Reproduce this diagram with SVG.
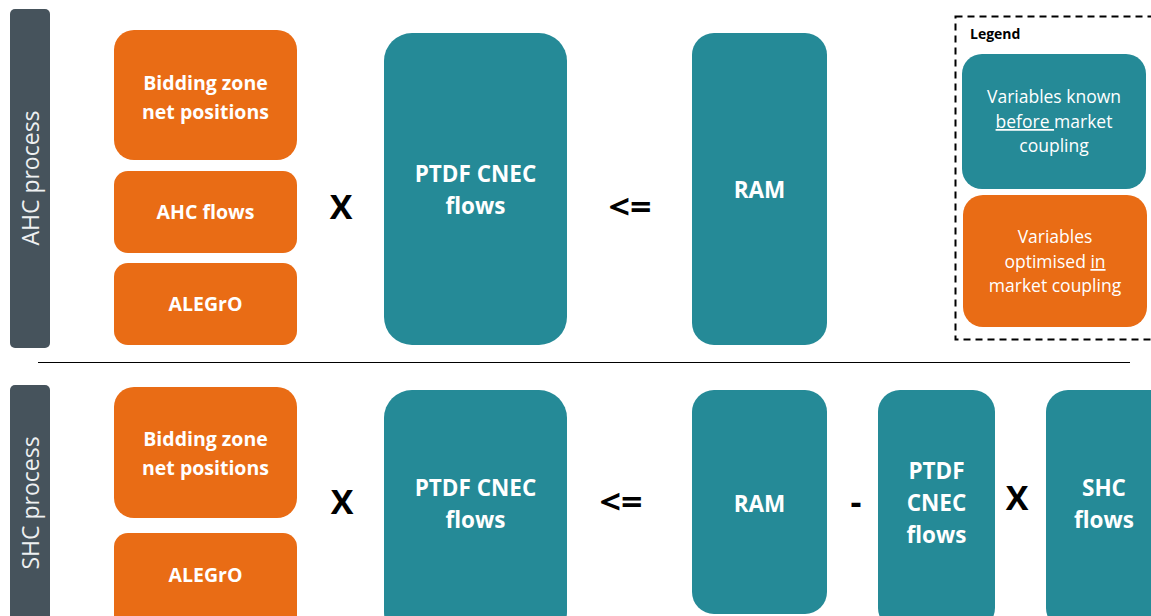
<svg xmlns="http://www.w3.org/2000/svg" width="1151" height="616" viewBox="0 0 1151 616">
<style>
.or{fill:#E96C15}
.te{fill:#258A97}
.bar{fill:#46535C}
.t{font-family:"Open Sans","Noto Sans",sans-serif;font-weight:bold;fill:#fff;text-anchor:middle;font-size:19.5px}
.tt{font-family:"Open Sans","Noto Sans",sans-serif;font-weight:bold;fill:#fff;text-anchor:middle;font-size:22.5px}
.l{font-family:"Open Sans","Noto Sans",sans-serif;fill:#fff;text-anchor:middle;font-size:17.5px}
.op{font-family:"Open Sans","Noto Sans",sans-serif;font-weight:bold;fill:#000;text-anchor:middle;font-size:34px}
.side{font-family:"Open Sans","Noto Sans",sans-serif;fill:#eef0f1;text-anchor:middle;font-size:23px}
</style>
<rect width="1151" height="616" fill="#fff"/>
<g id="ahc-label"><rect class="bar" x="10" y="9" width="40" height="339" rx="5"/><text class="side" transform="translate(39,178) rotate(-90)">AHC process</text></g>
<g id="shc-label"><rect class="bar" x="10" y="385" width="40" height="240" rx="5"/><text class="side" transform="translate(39,503) rotate(-90)">SHC process</text></g>
<g id="connectors"><line x1="38" y1="362.5" x2="1130" y2="362.5" stroke="#000" stroke-width="1"/></g>
<g id="ahc-bz"><rect class="or" x="114" y="30" width="183" height="130" rx="20"/><text class="t" x="205.5" y="90">Bidding zone</text><text class="t" x="205.5" y="119">net positions</text></g>
<g id="ahc-flows"><rect class="or" x="114" y="171" width="183" height="82" rx="14"/><text class="t" x="205.5" y="219">AHC flows</text></g>
<g id="ahc-alegro"><rect class="or" x="114" y="263" width="183" height="82" rx="14"/><text class="t" x="205.5" y="311">ALEGrO</text></g>
<g id="ahc-x"><text class="op" x="341" y="219">X</text></g>
<g id="ahc-ptdf"><rect class="te" x="384" y="33" width="183" height="312" rx="28"/><text class="tt" x="475.5" y="182">PTDF CNEC</text><text class="tt" x="475.5" y="214">flows</text></g>
<g id="ahc-le"><text class="op" x="630" y="219" textLength="43" lengthAdjust="spacingAndGlyphs">&lt;=</text></g>
<g id="ahc-ram"><rect class="te" x="692" y="33" width="135" height="312" rx="22"/><text class="tt" x="759.5" y="198" font-size="24">RAM</text></g>
<g id="legend">
<rect x="955.5" y="16.5" width="200" height="323" fill="none" stroke="#000" stroke-width="2" stroke-dasharray="7,5"/>
<text x="970" y="39" font-family="'Open Sans','Noto Sans',sans-serif" font-weight="bold" font-size="14" fill="#000">Legend</text>
<rect class="te" x="962" y="54" width="184" height="135" rx="20"/>
<text class="l" x="1054" y="103">Variables known</text>
<text class="l" x="1054" y="128"><tspan text-decoration="underline">before </tspan>market</text>
<text class="l" x="1054" y="152">coupling</text>
<rect class="or" x="963" y="195" width="184" height="132" rx="20"/>
<text class="l" x="1055" y="243">Variables</text>
<text class="l" x="1055" y="268">optimised <tspan text-decoration="underline">in</tspan></text>
<text class="l" x="1055" y="292">market coupling</text>
</g>
<g id="shc-bz"><rect class="or" x="114" y="387" width="183" height="131" rx="20"/><text class="t" x="205.5" y="446">Bidding zone</text><text class="t" x="205.5" y="475">net positions</text></g>
<g id="shc-alegro"><rect class="or" x="114" y="533" width="183" height="100" rx="14"/><text class="t" x="205.5" y="582">ALEGrO</text></g>
<g id="shc-x"><text class="op" x="342" y="514">X</text></g>
<g id="shc-ptdf"><rect class="te" x="384" y="390" width="183" height="250" rx="28"/><text class="tt" x="475.5" y="496">PTDF CNEC</text><text class="tt" x="475.5" y="528">flows</text></g>
<g id="shc-le"><text class="op" x="621" y="514" textLength="43" lengthAdjust="spacingAndGlyphs">&lt;=</text></g>
<g id="shc-ram"><rect class="te" x="692" y="390" width="135" height="224" rx="22"/><text class="tt" x="759.5" y="512" font-size="24">RAM</text></g>
<g id="shc-minus"><text class="op" x="856" y="514">-</text></g>
<g id="shc-ptdf2"><rect class="te" x="878" y="390" width="117" height="240" rx="22"/><text class="tt" x="936.5" y="479">PTDF</text><text class="tt" x="936.5" y="511">CNEC</text><text class="tt" x="936.5" y="543">flows</text></g>
<g id="shc-x2"><text class="op" x="1017" y="510" font-size="26">X</text></g>
<g id="shc-flows"><rect class="te" x="1046" y="390" width="130" height="240" rx="22"/><text class="tt" x="1104" y="496">SHC</text><text class="tt" x="1104" y="528">flows</text></g>
</svg>
